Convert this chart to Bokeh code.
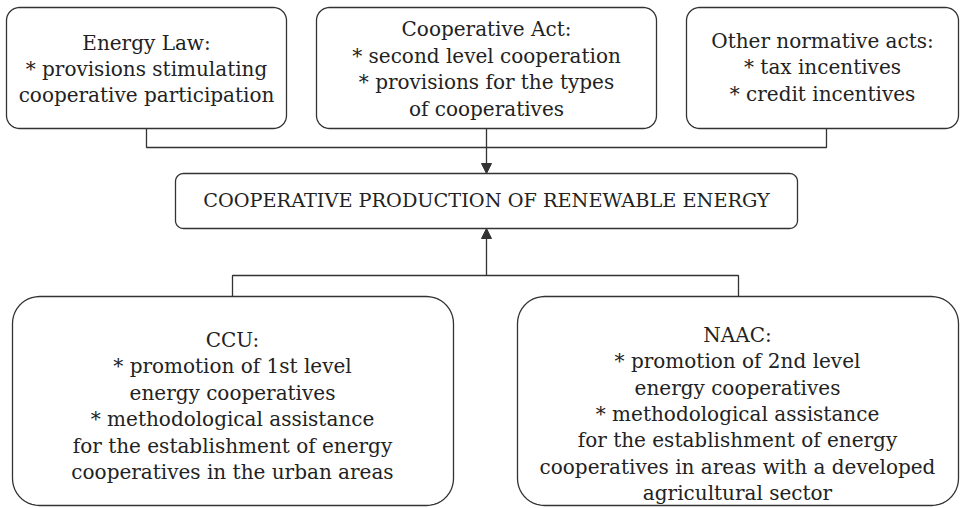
import numpy as np
from bokeh.plotting import figure
from bokeh.models import Range1d, Arrow, NormalHead, ColumnDataSource
from bokeh.core.properties import value
from bokeh.embed import file_html
from bokeh.resources import INLINE

# ---- content ----
box_titles = [
    "Energy Law:\n* provisions stimulating\ncooperative participation",
    "Cooperative Act:\n* second level cooperation\n* provisions for the types\nof cooperatives",
    "Other normative acts:\n* tax incentives\n* credit incentives",
    "COOPERATIVE PRODUCTION OF RENEWABLE ENERGY",
    "CCU:\n* promotion of 1st level\nenergy cooperatives\n* methodological assistance\nfor the establishment of energy\ncooperatives in the urban areas",
    "NAAC:\n* promotion of 2nd level\nenergy cooperatives\n* methodological assistance\nfor the establishment of energy\ncooperatives in areas with a developed\nagricultural sector",
]

# ---- layout (reference pixel coordinates) ----
box_x0 = [6, 316, 686, 175, 12, 517]
box_y0 = [7, 7, 7, 173, 296, 296]
box_x1 = [286, 656, 958, 797, 453, 958]
box_y1 = [128, 128, 128, 228, 505, 505]
box_r = [13, 13, 13, 8, 27, 27]
text_cy = [68.5, 68.5, 67, 200, 405.5, 413.5]
text_px = ["20px", "20px", "20px", "19.3px", "20px", "20px"]

FONT = "DejaVu Serif"
INK = "#222222"
LINE = "#333333"


def rounded_rect(x0, y0, x1, y1, r, n=12):
    xs, ys = [], []
    corners = [
        (x1 - r, y0 + r, -np.pi / 2, 0),
        (x1 - r, y1 - r, 0, np.pi / 2),
        (x0 + r, y1 - r, np.pi / 2, np.pi),
        (x0 + r, y0 + r, np.pi, 1.5 * np.pi),
    ]
    for cx, cy, a0, a1 in corners:
        t = np.linspace(a0, a1, n)
        xs.extend(cx + r * np.cos(t))
        ys.extend(cy + r * np.sin(t))
    return xs, ys


p = figure(width=965, height=508, output_backend="svg", toolbar_location=None,
           x_range=Range1d(0, 965), y_range=Range1d(508, 0),
           min_border=0, background_fill_color="white", border_fill_color="white")
p.axis.visible = False
p.grid.visible = False
p.outline_line_color = None

pxs, pys = [], []
for x0, y0, x1, y1, r in zip(box_x0, box_y0, box_x1, box_y1, box_r):
    xs, ys = rounded_rect(x0, y0, x1, y1, r)
    pxs.append(xs)
    pys.append(ys)
p.patches(pxs, pys, fill_color="white", line_color=LINE, line_width=1.3)

# connectors (top)
c1x = (box_x0[0] + box_x1[0]) / 2
c2x = (box_x0[1] + box_x1[1]) / 2
c3x = 826
top_bus = 147
p.multi_line([[c1x, c1x, c3x, c3x]], [[box_y1[0], top_bus, top_bus, box_y1[2]]],
             line_color=LINE, line_width=1.3)
p.add_layout(Arrow(end=NormalHead(size=10, fill_color=LINE, line_color=LINE),
                   x_start=c2x, y_start=box_y1[1], x_end=c2x, y_end=box_y0[3],
                   line_color=LINE, line_width=1.3))

# connectors (bottom)
c4x = 232
c5x = 738
bot_bus = 275
p.multi_line([[c4x, c4x, c5x, c5x]], [[box_y0[4], bot_bus, bot_bus, box_y0[5]]],
             line_color=LINE, line_width=1.3)
p.add_layout(Arrow(end=NormalHead(size=10, fill_color=LINE, line_color=LINE),
                   x_start=c2x, y_start=bot_bus, x_end=c2x, y_end=box_y1[3],
                   line_color=LINE, line_width=1.3))

cx = [c1x, c2x, (box_x0[2] + box_x1[2]) / 2, c2x, c4x, c5x - 1]
src = ColumnDataSource(dict(x=cx, y=text_cy, text=box_titles, size=text_px))
p.text(x="x", y="y", text="text", text_font_size="size", source=src,
       text_align="center", text_baseline="middle",
       text_font=value(FONT), text_color=INK, text_line_height=1.1)

open("out.html", "w").write(file_html(p, INLINE))
